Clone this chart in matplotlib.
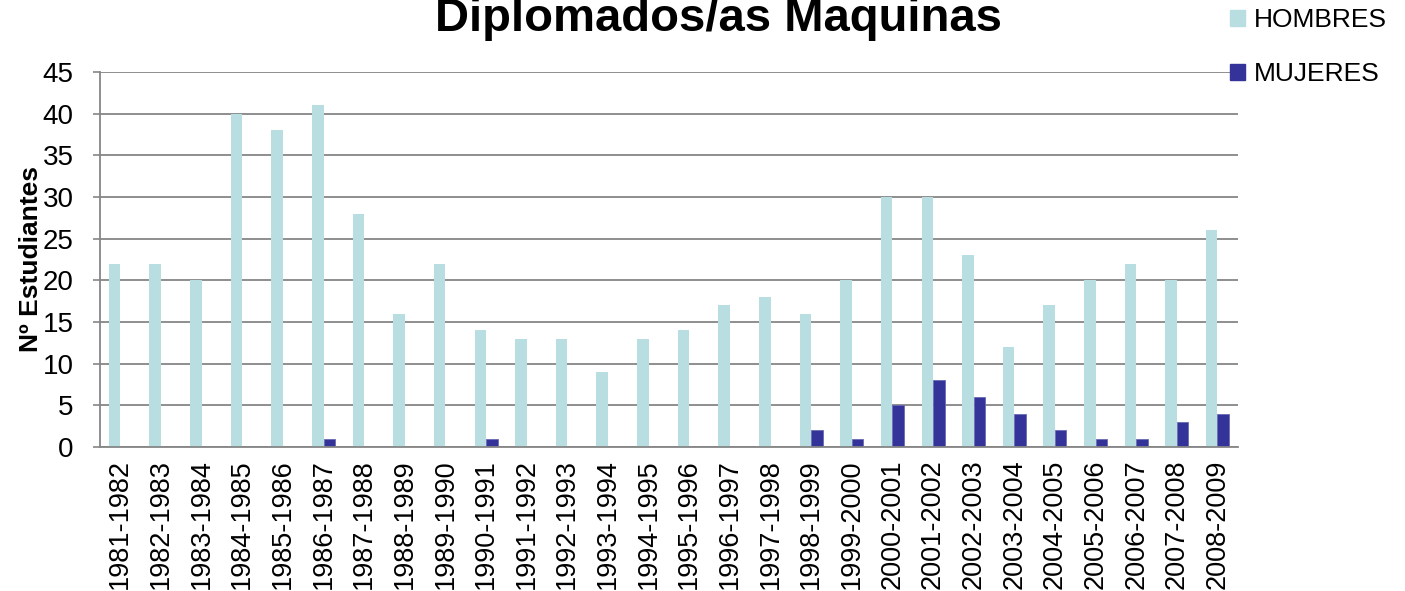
import numpy as np
import matplotlib
matplotlib.use('Agg')
import matplotlib.pyplot as plt
from matplotlib.patches import Patch

# Datos
cursos = ['1981-1982', '1982-1983', '1983-1984', '1984-1985', '1985-1986', '1986-1987',
          '1987-1988', '1988-1989', '1989-1990', '1990-1991', '1991-1992', '1992-1993',
          '1993-1994', '1994-1995', '1995-1996', '1996-1997', '1997-1998', '1998-1999',
          '1999-2000', '2000-2001', '2001-2002', '2002-2003', '2003-2004', '2004-2005',
          '2005-2006', '2006-2007', '2007-2008', '2008-2009']
hombres = [22, 22, 20, 40, 38, 41, 28, 16, 22, 14, 13, 13, 9, 13, 14, 17, 18, 16, 20,
           30, 30, 23, 12, 17, 20, 22, 20, 26]
mujeres = [0, 0, 0, 0, 0, 1, 0, 0, 0, 1, 0, 0, 0, 0, 0, 0, 0, 2, 1, 5, 8, 6, 4, 2, 1,
           1, 3, 4]

COLOR_H = '#B8DEE2'
COLOR_M = '#333399'

plt.rcParams['font.family'] = ['Liberation Sans', 'DejaVu Sans']

fig = plt.figure(figsize=(14.05, 5.91), dpi=100)
ax = fig.add_axes([0.0712, 0.2437, 0.881 - 0.0712, 0.8782 - 0.2437])

x = np.arange(len(cursos))
w = 0.283
ax.bar(x - w / 2, hombres, width=w, color=COLOR_H, zorder=2)
ax.bar(x + w / 2, mujeres, width=w, color=COLOR_M, edgecolor='#6A6AB5', linewidth=0.6, zorder=2)

ax.set_xlim(-0.5, len(cursos) - 0.5)
ax.set_ylim(0, 45)
ax.set_yticks(range(0, 46, 5))
ax.set_xticks(x)
ax.set_xticklabels(cursos, rotation=90, va='top', ha='center')
ax.tick_params(axis='x', length=0, pad=9, labelsize=19.5)
ax.tick_params(axis='y', length=5, width=1.2, color='#868686', pad=14, labelsize=20)

ax.grid(axis='y', color='#868686', linewidth=1.3)
ax.set_axisbelow(True)
for s in ['top', 'right']:
    ax.spines[s].set_visible(False)
for s in ['left', 'bottom']:
    ax.spines[s].set_color('#868686')
    ax.spines[s].set_linewidth(1.3)

fig.text(31 / 1405, 1 - 259 / 591, 'Nº Estudiantes', rotation=90, ha='center', va='center',
         fontsize=19, fontweight='bold')
fig.text(718 / 1405, 1 - 31 / 591, 'Diplomados/as Maquinas', ha='center', va='baseline',
         fontsize=34, fontweight='bold')

handles = [Patch(color=COLOR_H, label='HOMBRES'), Patch(color=COLOR_M, label='MUJERES')]
fig.legend(handles=handles, loc='upper left', bbox_to_anchor=(1230 / 1405, 1 - 8 / 591),
           frameon=False, fontsize=19, handlelength=0.55, handleheight=0.55,
           handletextpad=0.35, labelspacing=1.15, borderpad=0, borderaxespad=0)

fig.savefig('out.png', dpi=100)
